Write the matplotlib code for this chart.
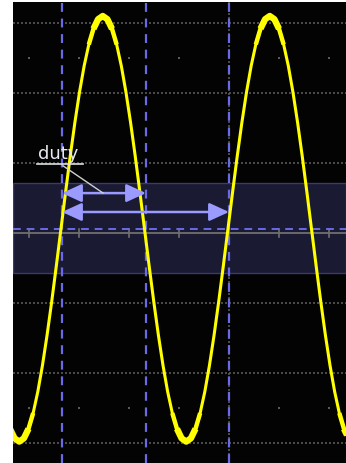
import numpy as np
import matplotlib
matplotlib.use("Agg")
import matplotlib.pyplot as plt

# trace samples (divisions), one sample every 10 deg of phase
t_start = -4.381
t_step = 0.09278
volts = [-2.797, -2.934, -2.980, -2.934, -2.797, -2.573, -2.269, -1.894, -1.460, -0.980,
         -0.468, 0.060, 0.588, 1.100, 1.580, 2.014, 2.389, 2.693, 2.917, 3.054,
         3.100, 3.054, 2.917, 2.693, 2.389, 2.014, 1.580, 1.100, 0.588, 0.060,
         -0.468, -0.980, -1.460, -1.894, -2.269, -2.573, -2.797, -2.934, -2.980, -2.934,
         -2.797, -2.573, -2.269, -1.894, -1.460, -0.980, -0.468, 0.060, 0.588, 1.100,
         1.580, 2.014, 2.389, 2.693, 2.917, 3.054, 3.100, 3.054, 2.917, 2.693,
         2.389, 2.014, 1.580, 1.100, 0.588, 0.060, -0.468, -0.980, -1.460, -1.894,
         -2.269, -2.573, -2.797, -2.934]

# cursors / measurement
cursor_x = [-3.34, -1.66, 0.0]
mid_level = 0.06
band = (-0.57, 0.71)
width_arrow = (-3.34, -1.66, 0.57)   # x0, x1, y
period_arrow = (-3.34, 0.0, 0.30)
label = "duty"

grid_y = [-3, -2, -1, 1, 2, 3]
grid_x = [0]
tick_x = [-4, -3, -2, -1, 0, 1, 2]
dot_y = [-2.5, 2.5]

BG = "#030303"
GRID = "#5a5a5a"
YELLOW = "#ffff00"
CURSOR = "#6a6ae6"
ARROW = "#9a9aff"

fig = plt.figure(figsize=(3.46, 4.63), dpi=100)
fig.patch.set_facecolor("white")
ax = fig.add_axes([13 / 346, 0, 333 / 346, 461 / 463])
ax.set_facecolor(BG)
ax.set_xlim(-4.32, 2.34)
ax.set_ylim(-3.286, 3.30)
ax.set_xticks([])
ax.set_yticks([])
for s in ax.spines.values():
    s.set_visible(False)

# graticule
for gy in grid_y:
    ax.axhline(gy, color=GRID, lw=1.2, ls=(0, (1.2, 1.2)), zorder=1)
for gx in grid_x:
    ax.axvline(gx, color=GRID, lw=1.2, ls=(0, (1.2, 1.2)), zorder=1)
for dy in dot_y:
    ax.scatter(tick_x, [dy] * len(tick_x), s=3, color=GRID, marker="s", lw=0, zorder=1)

# measurement band
ax.axhspan(band[0], band[1], facecolor="#1a1a33", edgecolor="#3a3a6e", lw=1, zorder=2)

# centre axis with ticks
ax.axhline(0, color="#707070", lw=1.3, zorder=3)
for tx in tick_x:
    ax.plot([tx, tx], [-0.06, 0.06], color="#707070", lw=1.2, zorder=3)

# cursors
ax.axhline(mid_level, color=CURSOR, lw=1.4, ls=(0, (4, 3)), zorder=4)
for cx in cursor_x:
    ax.axvline(cx, color=CURSOR, lw=1.6, ls=(0, (4, 3)), zorder=4)

# trace, thicker where the noise shows near the extremes
t = t_start + t_step * np.arange(len(volts))
v = np.array(volts)
ax.plot(t, v, color=YELLOW, lw=2.2, zorder=5, solid_joinstyle="round")
dev = np.abs(v - mid_level)
ax.plot(t, np.ma.masked_where(dev < 2.5, v), color=YELLOW, lw=3.2, zorder=5,
        solid_capstyle="butt")
ax.plot(t, np.ma.masked_where(dev < 2.8, v), color=YELLOW, lw=4.6, zorder=5,
        solid_capstyle="butt")

# arrows
for x0, x1, y in [width_arrow, period_arrow]:
    ax.annotate("", xy=(x1, y), xytext=(x0, y),
                arrowprops=dict(arrowstyle="<|-|>,head_length=1.2,head_width=0.55",
                                color=ARROW, lw=1.8, shrinkA=0, shrinkB=0,
                                mutation_scale=10),
                zorder=6)

# label with leader line
ax.text(-3.82, 1.06, label, color="#e8e8f0", fontsize=13, ha="left", va="baseline",
        zorder=7)
ax.plot([-3.84, -2.92], [0.986, 0.986], color="#e0e0e0", lw=1.2, zorder=7)
ax.plot([-3.32, -2.52], [0.96, 0.571], color="#d0d0d0", lw=1, zorder=7)

fig.savefig("out.png", dpi=100, facecolor=fig.get_facecolor())
